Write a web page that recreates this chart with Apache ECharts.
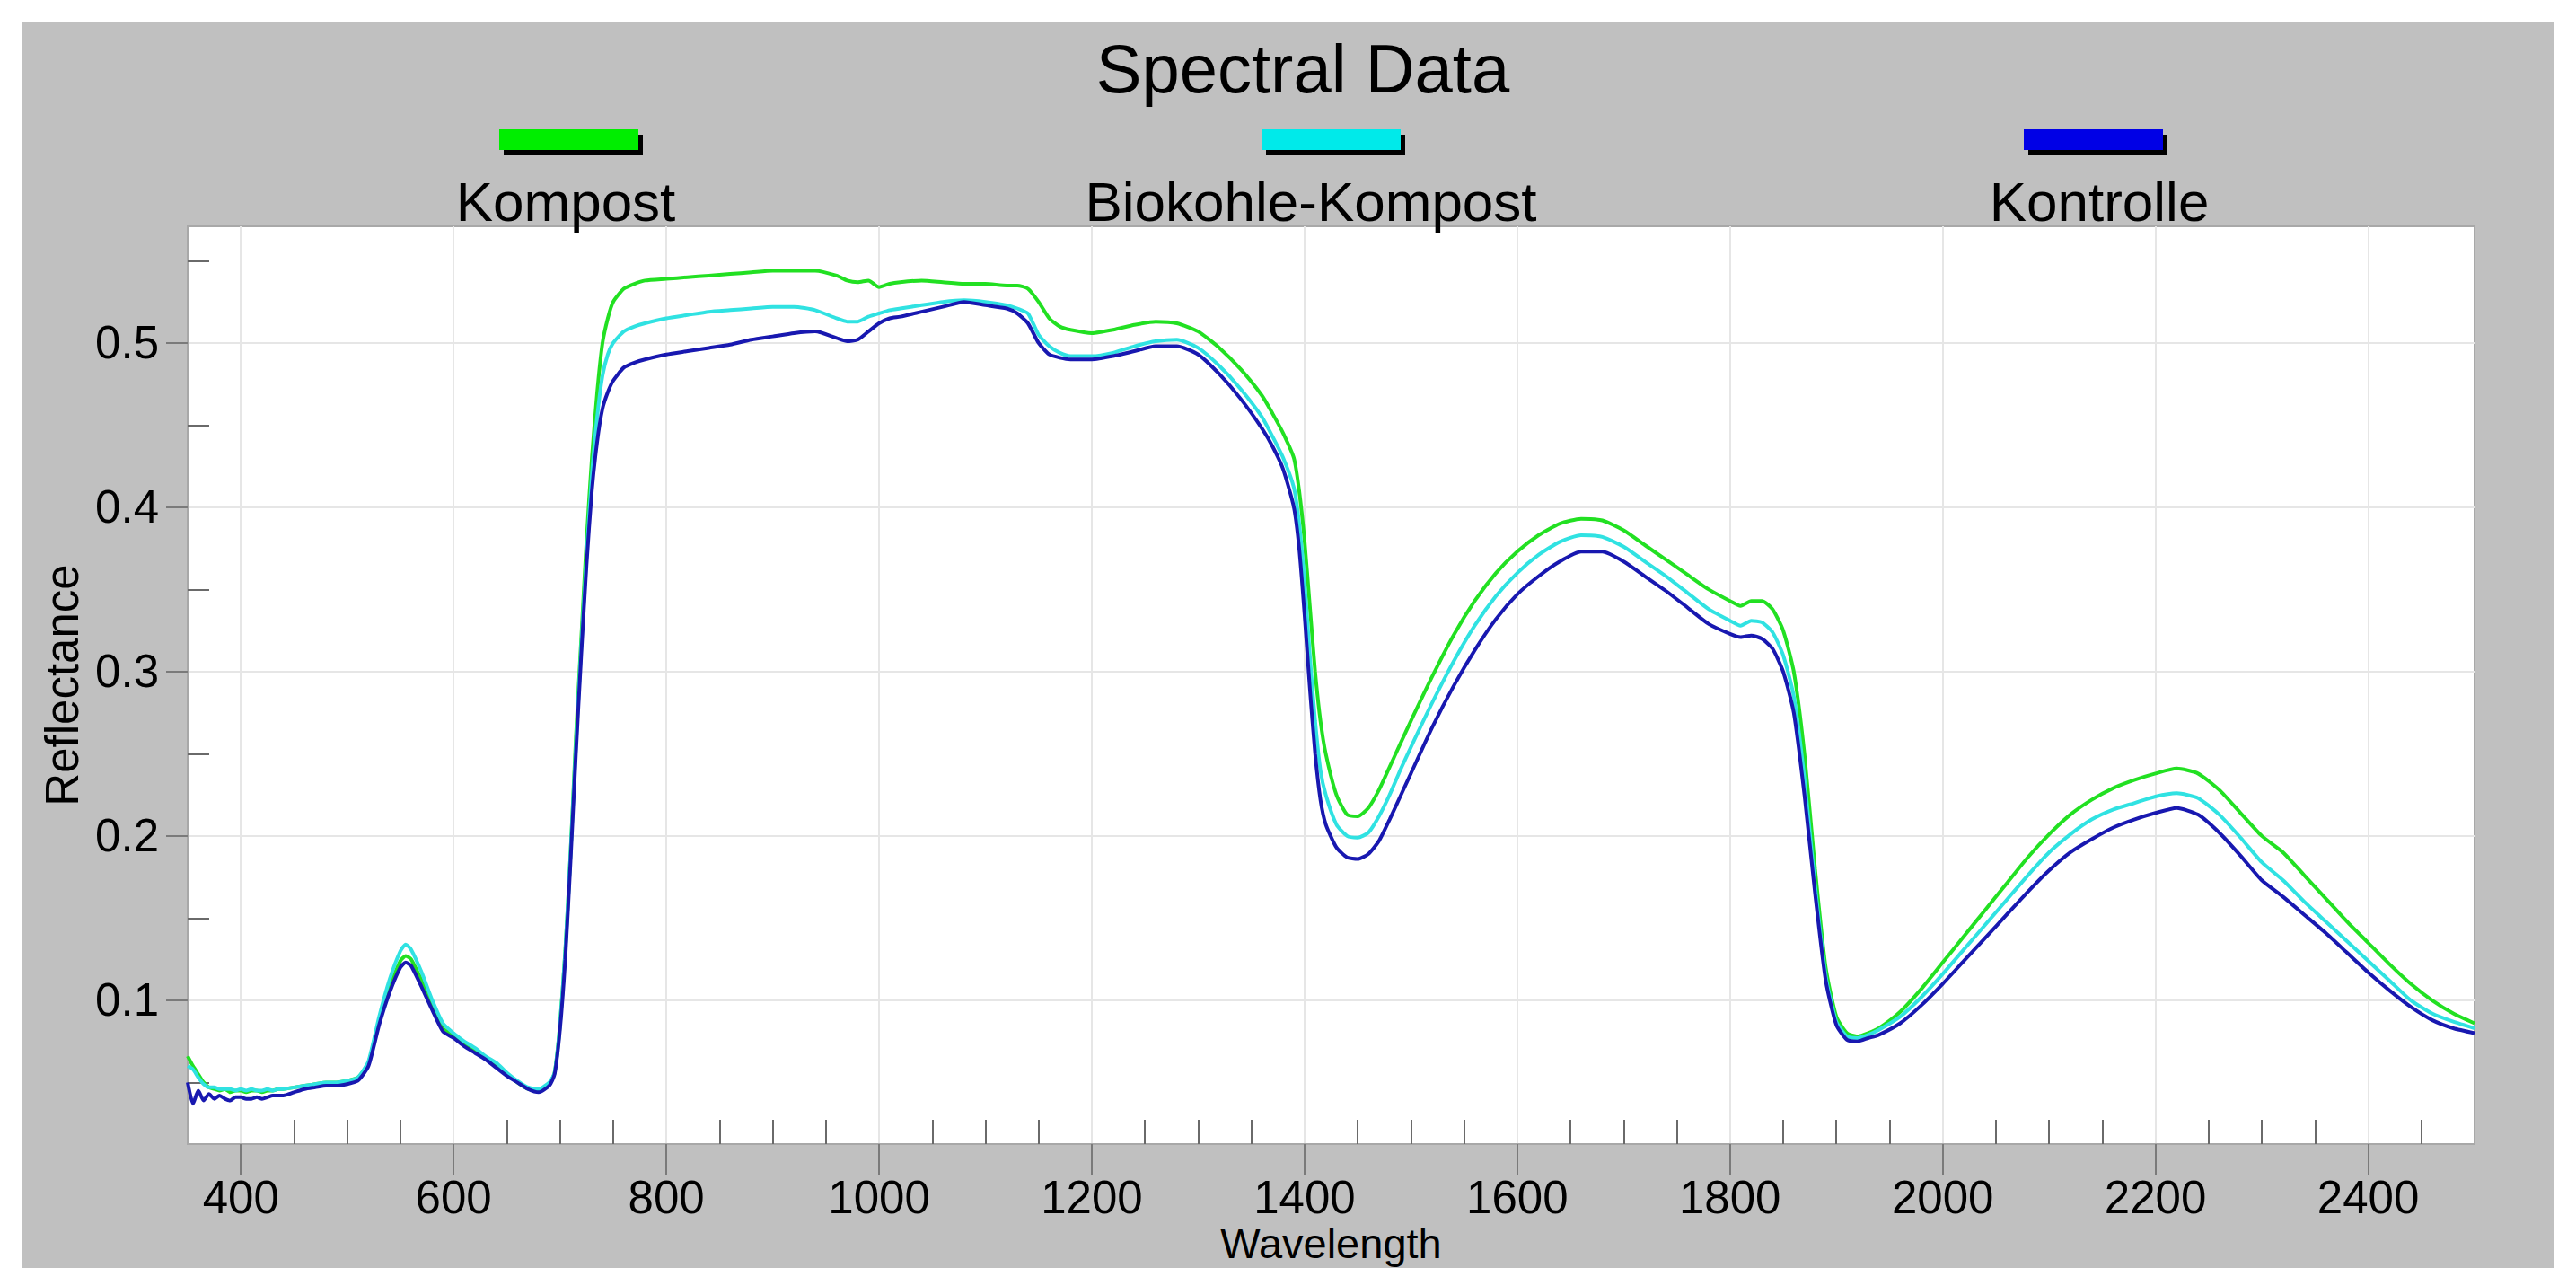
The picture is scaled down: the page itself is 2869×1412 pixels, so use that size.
<!DOCTYPE html>
<html>
<head>
<meta charset="utf-8">
<script src="https://cdn.jsdelivr.net/npm/echarts@6/dist/echarts.min.js"></script>
<style>
html,body{margin:0;padding:0;background:#fff;}
#chart{width:2869px;height:1412px;}
</style>
</head>
<body>
<div id="chart"></div>
<script>
const chartTitle = 'Spectral Data';
const seriesNames = ['Kompost', 'Biokohle-Kompost', 'Kontrolle'];
const xAxisName = 'Wavelength';
const yAxisName = 'Reflectance';

const wavelength = [
  350,355,360,365,370,375,380,385,390,395,
  400,405,410,415,420,425,430,435,440,450,
  460,470,480,490,500,510,520,530,540,550,
  555,560,570,580,590,600,610,620,630,640,
  650,660,670,680,690,695,700,705,710,715,
  720,725,730,735,740,745,750,760,770,780,
  800,820,840,860,880,900,920,940,960,970,
  980,990,1000,1010,1020,1040,1060,1080,1100,1120,
  1130,1140,1150,1160,1170,1180,1200,1220,1240,1260,
  1280,1300,1320,1340,1360,1370,1380,1390,1395,1400,
  1405,1410,1415,1420,1430,1440,1450,1460,1470,1480,
  1490,1500,1520,1540,1560,1580,1600,1620,1640,1660,
  1680,1700,1720,1740,1760,1780,1800,1810,1820,1830,
  1840,1850,1860,1870,1880,1890,1900,1910,1920,1930,
  1940,1960,1980,2000,2020,2040,2060,2080,2100,2120,
  2140,2160,2180,2200,2220,2240,2260,2280,2300,2320,
  2340,2360,2380,2400,2420,2440,2460,2480,2500
];

const kompost = [
  .066,.060,.055,.050,.047,.046,.045,.046,.044,.045,
  .045,.044,.045,.045,.044,.045,.045,.046,.046,.047,
  .048,.049,.050,.050,.051,.053,.062,.088,.108,.124,
  .127,.125,.112,.097,.083,.078,.073,.069,.065,.060,
  .055,.050,.046,.045,.049,.056,.085,.130,.190,.260,
  .320,.380,.430,.470,.500,.515,.525,.533,.536,.538,
  .539,.540,.541,.542,.543,.544,.544,.544,.541,.538,
  .537,.538,.534,.536,.537,.538,.537,.536,.536,.535,
  .535,.533,.525,.515,.510,.508,.506,.508,.511,.513,
  .512,.507,.497,.484,.468,.457,.445,.430,.410,.380,
  .340,.300,.270,.250,.225,.213,.212,.217,.228,.242,
  .256,.270,.297,.322,.343,.360,.373,.383,.390,.393,
  .392,.386,.377,.368,.359,.350,.343,.340,.343,.343,
  .338,.325,.300,.250,.180,.120,.090,.080,.078,.080,
  .083,.093,.107,.123,.139,.155,.171,.187,.201,.213,
  .222,.229,.234,.238,.241,.238,.228,.214,.200,.190,
  .176,.162,.148,.135,.122,.110,.100,.092,.086
];

const biokohle = [
  .060,.058,.053,.049,.047,.047,.046,.046,.046,.045,
  .046,.045,.046,.045,.045,.046,.045,.046,.046,.047,
  .048,.049,.050,.050,.051,.053,.063,.090,.113,.130,
  .134,.131,.117,.100,.086,.080,.075,.071,.066,.062,
  .056,.051,.047,.046,.050,.056,.085,.130,.190,.255,
  .315,.370,.420,.455,.480,.493,.500,.507,.510,.512,
  .515,.517,.519,.520,.521,.522,.522,.520,.515,.513,
  .513,.516,.518,.520,.521,.523,.525,.526,.525,.523,
  .521,.518,.505,.498,.494,.492,.492,.494,.498,.501,
  .502,.497,.486,.472,.455,.443,.430,.412,.390,.355,
  .310,.270,.240,.225,.207,.200,.199,.202,.212,.225,
  .240,.254,.281,.306,.328,.346,.360,.371,.379,.383,
  .382,.376,.367,.358,.348,.338,.331,.328,.331,.330,
  .324,.310,.285,.235,.170,.115,.087,.078,.077,.079,
  .082,.090,.102,.116,.131,.146,.161,.176,.190,.201,
  .210,.216,.220,.224,.226,.223,.213,.199,.184,.173,
  .160,.148,.136,.124,.112,.100,.092,.087,.083
];

const kontrolle = [
  .050,.037,.045,.039,.043,.040,.042,.040,.039,.041,
  .041,.040,.040,.041,.040,.041,.042,.042,.042,.044,
  .046,.047,.048,.048,.049,.051,.060,.085,.105,.120,
  .123,.121,.108,.094,.081,.077,.072,.068,.064,.059,
  .054,.050,.046,.044,.048,.055,.082,.125,.185,.250,
  .310,.365,.410,.440,.460,.470,.477,.485,.488,.490,
  .493,.495,.497,.499,.502,.504,.506,.507,.503,.501,
  .502,.507,.512,.515,.516,.519,.522,.525,.523,.521,
  .518,.512,.500,.493,.491,.490,.490,.492,.495,.498,
  .498,.493,.481,.466,.448,.437,.423,.400,.375,.335,
  .290,.250,.222,.207,.193,.187,.186,.189,.197,.210,
  .224,.238,.266,.291,.313,.332,.347,.358,.367,.373,
  .373,.367,.358,.349,.339,.329,.323,.321,.322,.320,
  .314,.300,.275,.225,.165,.112,.085,.076,.075,.077,
  .079,.086,.097,.110,.124,.138,.152,.166,.179,.190,
  .198,.205,.210,.214,.217,.213,.202,.188,.173,.163,
  .152,.141,.129,.117,.106,.096,.088,.083,.080
];

const xMajorTicks = [400,600,800,1000,1200,1400,1600,1800,2000,2200,2400];
const xMinorTicks = [450,500,550,650,700,750,850,900,950,1050,1100,1150,1250,1300,1350,
  1450,1500,1550,1650,1700,1750,1850,1900,1950,2050,2100,2150,2250,2300,2350,2450];
const yMajorTicks = [0.1,0.2,0.3,0.4,0.5];
const yMinorTicks = [0.05,0.15,0.25,0.35,0.45,0.55];
const xRange = [350, 2500];
const yRange = [0.0125, 0.571];

const lineColors = ['#22e022', '#30e2e2', '#1818b0'];
const legendColors = ['#00ee00', '#00eaea', '#0000e6'];

const FONT = "'Liberation Sans', Arial, sans-serif";

const chart = echarts.init(document.getElementById('chart'), null, {renderer: 'svg'});

const seriesValues = [kompost, biokohle, kontrolle];
const series = seriesNames.map((name, s) => ({
  name: name,
  type: 'line',
  xAxisIndex: 0,
  yAxisIndex: 0,
  showSymbol: false,
  smooth: 0.2,
  animation: false,
  lineStyle: {width: 4, color: lineColors[s]},
  itemStyle: {color: lineColors[s]},
  data: wavelength.map((w, i) => [w, seriesValues[s][i]])
}));

// legend: icon above its text, drawn as graphic
const legendIconX = [556, 1405, 2254];
const legendTextX = [630, 1460, 2338];
const legendGraphics = [];
seriesNames.forEach((name, s) => {
  legendGraphics.push({type: 'rect', z: 100, shape: {x: legendIconX[s] + 5, y: 150, width: 155, height: 23}, style: {fill: '#000'}});
  legendGraphics.push({type: 'rect', z: 101, shape: {x: legendIconX[s], y: 144, width: 155, height: 23}, style: {fill: legendColors[s]}});
  legendGraphics.push({type: 'text', z: 101, x: legendTextX[s], y: 224,
    style: {text: name, fill: '#000', font: '62px ' + FONT, textAlign: 'center', textVerticalAlign: 'middle'}});
});

const plainNumber = v => String(v);

const option = {
  backgroundColor: '#ffffff',
  animation: false,
  title: {
    text: chartTitle,
    left: 1446,
    top: 33,
    textAlign: 'center',
    textStyle: {fontFamily: FONT, fontSize: 76, fontWeight: 'normal', color: '#000'}
  },
  graphic: [
    {type: 'rect', z: -100, shape: {x: 25, y: 24, width: 2819, height: 1400}, style: {fill: '#c0c0c0'}}
  ].concat(legendGraphics),
  grid: {
    left: 209, right: 113, top: 252, bottom: 138,
    containLabel: false, outerBoundsMode: 'none',
    show: true, backgroundColor: '#ffffff', borderColor: '#a8a8a8', borderWidth: 2
  },
  xAxis: [
    {
      type: 'value', min: xRange[0], max: xRange[1], position: 'bottom',
      name: xAxisName, nameLocation: 'middle', nameGap: 87, nameMoveOverlap: false,
      nameTextStyle: {fontFamily: FONT, fontSize: 47, lineHeight: 47, color: '#000'},
      axisLine: {show: true, onZero: false, lineStyle: {color: '#a8a8a8', width: 2}},
      axisTick: {show: true, inside: false, length: 34, customValues: xMajorTicks, lineStyle: {color: '#7a7a7a', width: 2}},
      axisLabel: {show: true, margin: 37, lineHeight: 44, customValues: xMajorTicks, formatter: plainNumber, fontFamily: FONT, fontSize: 51, color: '#000'},
      splitLine: {show: true, lineStyle: {color: '#e6e6e6', width: 2}}
    },
    {
      type: 'value', min: xRange[0], max: xRange[1], position: 'bottom',
      axisLine: {show: false, onZero: false},
      axisTick: {show: true, inside: true, length: 27, customValues: xMinorTicks, lineStyle: {color: '#6a6a6a', width: 2}},
      axisLabel: {show: false},
      splitLine: {show: false}
    }
  ],
  yAxis: [
    {
      type: 'value', min: yRange[0], max: yRange[1], position: 'left',
      name: yAxisName, nameLocation: 'middle', nameGap: 110, nameRotate: 90,
      nameTextStyle: {fontFamily: FONT, fontSize: 51, color: '#000'},
      axisLine: {show: true, onZero: false, lineStyle: {color: '#a8a8a8', width: 2}},
      axisTick: {show: true, inside: false, length: 24, customValues: yMajorTicks, lineStyle: {color: '#7a7a7a', width: 2}},
      axisLabel: {show: true, margin: 32, customValues: yMajorTicks, formatter: plainNumber, fontFamily: FONT, fontSize: 51, color: '#000'},
      splitLine: {show: true, lineStyle: {color: '#e6e6e6', width: 2}}
    },
    {
      type: 'value', min: yRange[0], max: yRange[1], position: 'left',
      axisLine: {show: false, onZero: false},
      axisTick: {show: true, inside: true, length: 24, customValues: yMinorTicks, lineStyle: {color: '#6a6a6a', width: 2}},
      axisLabel: {show: false},
      splitLine: {show: false}
    }
  ],
  series: series
};
chart.setOption(option);
</script>
</body>
</html>
